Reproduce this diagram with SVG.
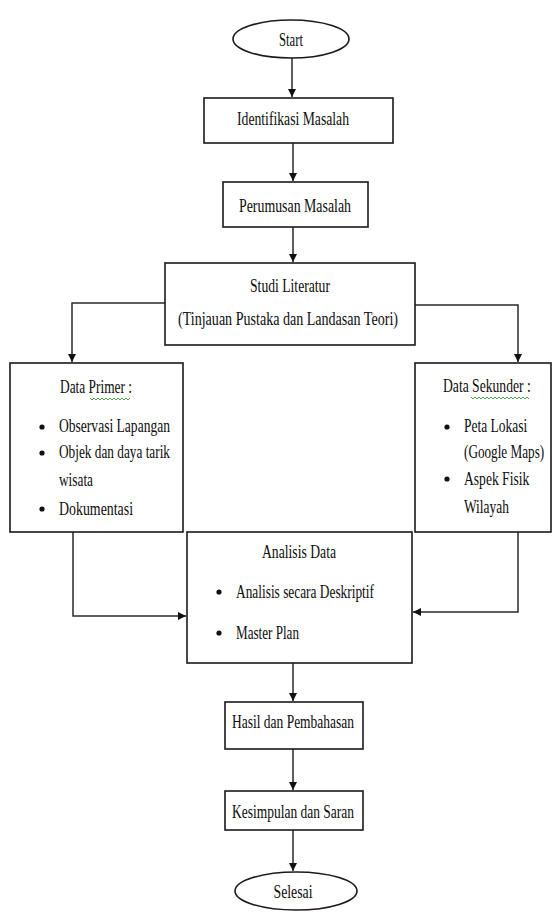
<svg xmlns="http://www.w3.org/2000/svg" width="552" height="921" viewBox="0 0 552 921">
<style>
.box{fill:#fff;stroke:#1a1a1a;stroke-width:1.6}
.ln{fill:none;stroke:#2a2a2a;stroke-width:1.5}
text{font-family:"Liberation Serif","Times New Roman",serif;font-size:19px;fill:#0d0d0d}
.c{text-anchor:middle}
.b{fill:#111}
.sq{fill:none;stroke:#3a9a3a;stroke-width:0.9}
</style>
<defs>
<marker id="ah" viewBox="0 0 10 10" refX="10" refY="5" markerWidth="8" markerHeight="9" markerUnits="userSpaceOnUse" orient="auto">
<path d="M0,0 L10,5 L0,10 z" fill="#111"/>
</marker>
</defs>
<rect width="552" height="921" fill="#fff"/>
<g id="connectors">
<line class="ln" x1="292" y1="58" x2="292" y2="97" marker-end="url(#ah)"/>
<line class="ln" x1="293" y1="143" x2="293" y2="181" marker-end="url(#ah)"/>
<line class="ln" x1="293" y1="227" x2="293" y2="262" marker-end="url(#ah)"/>
<polyline class="ln" points="165,303 72,303 72,362" marker-end="url(#ah)"/>
<polyline class="ln" points="415,305 518,305 518,362" marker-end="url(#ah)"/>
<polyline class="ln" points="73,532 73,616 186,616" marker-end="url(#ah)"/>
<polyline class="ln" points="518,532 518,612 413,612" marker-end="url(#ah)"/>
<line class="ln" x1="293" y1="663" x2="293" y2="701" marker-end="url(#ah)"/>
<line class="ln" x1="293" y1="749" x2="293" y2="790" marker-end="url(#ah)"/>
<line class="ln" x1="293" y1="830" x2="293" y2="871" marker-end="url(#ah)"/>
</g>
<g id="start">
<ellipse class="box" cx="291" cy="39" rx="58" ry="19"/>
<text class="c" x="291" y="46" textLength="24" lengthAdjust="spacingAndGlyphs">Start</text>
</g>
<g id="identifikasi">
<rect class="box" x="204" y="98" width="189" height="45"/>
<text class="c" x="293" y="125" textLength="112" lengthAdjust="spacingAndGlyphs">Identifikasi Masalah</text>
</g>
<g id="perumusan">
<rect class="box" x="223" y="182" width="145" height="45"/>
<text class="c" x="295" y="212" textLength="112" lengthAdjust="spacingAndGlyphs">Perumusan Masalah</text>
</g>
<g id="studi">
<rect class="box" x="165" y="263" width="250" height="82"/>
<text class="c" x="290" y="292" textLength="80" lengthAdjust="spacingAndGlyphs">Studi Literatur</text>
<text class="c" x="288" y="325" textLength="220" lengthAdjust="spacingAndGlyphs">(Tinjauan Pustaka dan Landasan Teori)</text>
</g>
<g id="primer">
<rect class="box" x="10" y="363" width="173" height="169"/>
<text x="60" y="393" textLength="72" lengthAdjust="spacingAndGlyphs">Data Primer :</text>
<path class="sq" d="M90,398 l2,2 l2,-2 l2,2 l2,-2 l2,2 l2,-2 l2,2 l2,-2 l2,2 l2,-2 l2,2 l2,-2 l2,2 l2,-2 l2,2 l2,-2 l2,2 l2,-2 l2,2 l2,-2"/>
<circle class="b" cx="42" cy="427" r="2.6"/>
<circle class="b" cx="42" cy="453" r="2.6"/>
<circle class="b" cx="42" cy="509" r="2.6"/>
<text x="59" y="432" textLength="111" lengthAdjust="spacingAndGlyphs">Observasi Lapangan</text>
<text x="59" y="458" textLength="111" lengthAdjust="spacingAndGlyphs">Objek dan daya tarik</text>
<text x="59" y="486" textLength="34" lengthAdjust="spacingAndGlyphs">wisata</text>
<text x="59" y="515" textLength="74" lengthAdjust="spacingAndGlyphs">Dokumentasi</text>
</g>
<g id="sekunder">
<rect class="box" x="415" y="363" width="136" height="169"/>
<text transform="translate(443,392) scale(0.68,1)" x="0" y="0" textLength="129" lengthAdjust="spacingAndGlyphs">Data Sekunder :</text>
<path class="sq" d="M471,397 l2,2 l2,-2 l2,2 l2,-2 l2,2 l2,-2 l2,2 l2,-2 l2,2 l2,-2 l2,2 l2,-2 l2,2 l2,-2 l2,2 l2,-2 l2,2 l2,-2 l2,2 l2,-2 l2,2 l2,-2 l2,2 l2,-2 l2,2 l2,-2 l2,2 l2,-2 l2,2"/>
<circle class="b" cx="447" cy="427" r="2.6"/>
<circle class="b" cx="447" cy="479" r="2.6"/>
<text transform="translate(464,432) scale(0.68,1)" x="0" y="0" textLength="93" lengthAdjust="spacingAndGlyphs">Peta Lokasi</text>
<text transform="translate(464,458) scale(0.68,1)" x="0" y="0" textLength="118" lengthAdjust="spacingAndGlyphs">(Google Maps)</text>
<text transform="translate(464,485) scale(0.68,1)" x="0" y="0" textLength="96" lengthAdjust="spacingAndGlyphs">Aspek Fisik</text>
<text transform="translate(464,513) scale(0.68,1)" x="0" y="0" textLength="66" lengthAdjust="spacingAndGlyphs">Wilayah</text>
</g>
<g id="analisis">
<rect class="box" x="187" y="532" width="225" height="131"/>
<text class="c" x="299" y="558" textLength="74" lengthAdjust="spacingAndGlyphs">Analisis Data</text>
<circle class="b" cx="219" cy="592" r="2.6"/>
<circle class="b" cx="219" cy="633" r="2.6"/>
<text x="236" y="598" textLength="138" lengthAdjust="spacingAndGlyphs">Analisis secara Deskriptif</text>
<text x="236" y="639" textLength="63" lengthAdjust="spacingAndGlyphs">Master Plan</text>
</g>
<g id="hasil">
<rect class="box" x="225" y="702" width="138" height="47"/>
<text class="c" x="293" y="728" textLength="122" lengthAdjust="spacingAndGlyphs">Hasil dan Pembahasan</text>
</g>
<g id="kesimpulan">
<rect class="box" x="225" y="791" width="138" height="39"/>
<text class="c" x="293" y="818" textLength="122" lengthAdjust="spacingAndGlyphs">Kesimpulan dan Saran</text>
</g>
<g id="selesai">
<ellipse class="box" cx="296" cy="891" rx="61" ry="19"/>
<text class="c" x="293" y="898" textLength="39" lengthAdjust="spacingAndGlyphs">Selesai</text>
</g>
</svg>
